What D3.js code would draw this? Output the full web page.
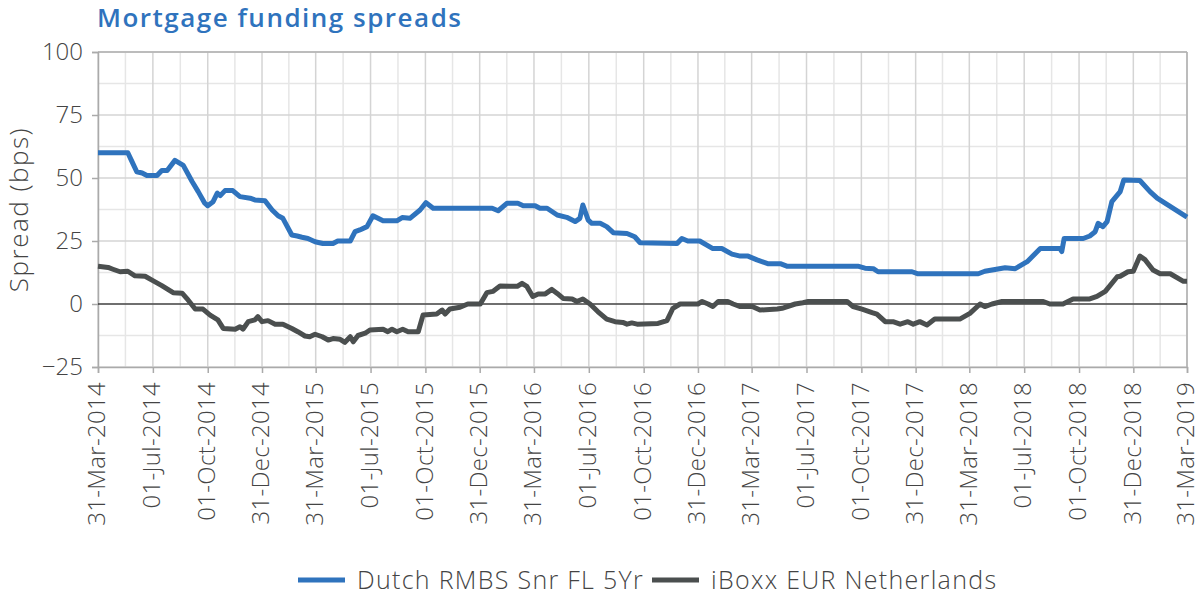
<!DOCTYPE html>
<html>
<head>
<meta charset="utf-8">
<script src="https://cdn.jsdelivr.net/npm/d3@7"></script>
<style>
  body { margin: 0; background: #fff; }
  text { font-family: "Open Sans", "Noto Sans", sans-serif; }
</style>
</head>
<body>
<div id="chart"></div>
<script>
// series 1: Dutch RMBS Snr FL 5Yr (bps)
const rmbsDates = ["2014-03-31","2014-05-20","2014-05-27","2014-06-04","2014-06-13","2014-06-21","2014-07-08","2014-07-16","2014-07-25","2014-08-07","2014-08-21","2014-09-05","2014-09-15","2014-09-26","2014-10-01","2014-10-10","2014-10-17","2014-10-22","2014-10-30","2014-11-12","2014-11-24","2014-12-11","2014-12-19","2015-01-05","2015-01-17","2015-01-27","2015-02-04","2015-02-19","2015-02-28","2015-03-08","2015-03-18","2015-03-30","2015-04-12","2015-04-29","2015-05-07","2015-05-28","2015-06-05","2015-06-13","2015-06-25","2015-07-05","2015-07-22","2015-08-14","2015-08-23","2015-09-05","2015-09-22","2015-10-02","2015-10-14","2016-01-21","2016-01-31","2016-02-15","2016-03-04","2016-03-13","2016-04-02","2016-04-10","2016-04-22","2016-05-09","2016-05-25","2016-06-08","2016-06-16","2016-06-21","2016-06-30","2016-07-06","2016-07-20","2016-07-31","2016-08-11","2016-09-03","2016-09-16","2016-09-25","2016-11-26","2016-12-04","2016-12-14","2017-01-03","2017-01-25","2017-02-09","2017-02-26","2017-03-12","2017-03-25","2017-04-09","2017-04-27","2017-05-18","2017-05-29","2017-09-25","2017-10-07","2017-10-21","2017-10-29","2017-12-25","2018-01-04","2018-04-15","2018-04-26","2018-05-30","2018-06-16","2018-07-06","2018-07-28","2018-08-30","2018-09-02","2018-09-06","2018-10-08","2018-10-19","2018-10-28","2018-11-02","2018-11-10","2018-11-17","2018-11-25","2018-12-09","2018-12-15","2019-01-11","2019-01-28","2019-02-09","2019-03-31"];
const rmbsValues = [60,60,56.5,52.5,52,51,51,53,53,57,55,48.5,44.6,40,39,40.6,44,43,45,45,42.6,42,41.3,41,37.3,35,34,27.4,27,26.5,26,24.7,24,24,25,25,28.7,29.4,30.7,35,33,33,34.3,34,37.3,40.2,38,38,37,40,40,39,39,38,38,35.3,34.4,32.7,34,39.3,33.3,32,32,30.7,28.3,28,26.7,24.3,24,26,25,25,22,22,19.8,19,19,17.5,16,16,15,15,14.2,14,12.8,12.8,12,12,13,14.4,14,16.8,22,22,20.8,26,26,27,28.7,32,30.7,32.7,40.6,44.6,49.2,49,44.6,42,34.5];

// series 2: iBoxx EUR Netherlands (bps)
const iboxxDates = ["2014-03-31","2014-04-17","2014-04-25","2014-05-07","2014-05-20","2014-06-01","2014-06-18","2014-07-01","2014-07-16","2014-08-04","2014-08-19","2014-08-29","2014-09-10","2014-09-23","2014-10-05","2014-10-18","2014-10-27","2014-11-16","2014-11-24","2014-11-29","2014-12-08","2014-12-19","2014-12-24","2014-12-31","2015-01-10","2015-01-22","2015-02-04","2015-02-19","2015-03-01","2015-03-13","2015-03-21","2015-03-30","2015-04-11","2015-04-21","2015-04-29","2015-05-11","2015-05-19","2015-05-28","2015-06-02","2015-06-10","2015-06-22","2015-06-30","2015-07-22","2015-07-30","2015-08-06","2015-08-14","2015-08-24","2015-09-02","2015-09-19","2015-09-27","2015-10-20","2015-10-29","2015-11-03","2015-11-11","2015-11-28","2015-12-11","2016-01-01","2016-01-12","2016-01-22","2016-02-03","2016-03-03","2016-03-11","2016-03-19","2016-03-29","2016-04-07","2016-04-19","2016-04-30","2016-05-09","2016-05-19","2016-06-03","2016-06-11","2016-06-21","2016-07-03","2016-07-16","2016-07-31","2016-08-14","2016-08-27","2016-09-03","2016-09-11","2016-09-20","2016-10-25","2016-11-09","2016-11-19","2016-12-01","2016-12-31","2017-01-07","2017-01-17","2017-01-25","2017-02-03","2017-02-19","2017-02-28","2017-03-12","2017-04-01","2017-04-14","2017-05-13","2017-05-21","2017-06-12","2017-06-25","2017-07-04","2017-09-07","2017-09-17","2017-10-02","2017-10-19","2017-10-27","2017-11-10","2017-11-23","2017-12-05","2017-12-18","2017-12-27","2018-01-07","2018-01-19","2018-02-01","2018-03-15","2018-04-01","2018-04-18","2018-04-26","2018-05-08","2018-05-25","2018-08-02","2018-08-13","2018-09-04","2018-09-21","2018-10-19","2018-10-31","2018-11-14","2018-12-04","2018-12-09","2018-12-22","2018-12-31","2019-01-11","2019-01-20","2019-02-02","2019-02-14","2019-03-03","2019-03-25","2019-03-31"];
const iboxxValues = [15,14.5,13.8,12.8,13,11.2,11,9.3,7.3,4.5,4.3,1.6,-2,-2,-4.4,-6.3,-9.7,-10,-9,-10,-7,-6.3,-5,-7,-6.6,-8,-8,-9.7,-11,-12.7,-13,-12,-13,-14.3,-13.7,-14,-15.2,-13,-15,-12.5,-11.6,-10.3,-10,-11,-10,-11,-10,-11,-11,-4.4,-4,-2.4,-4,-2,-1.3,0,0,4.5,5,7.1,7,8.2,7,3,4,4,5.8,4.2,2.2,2,1,2,0,-3,-6,-7,-7.3,-8,-7.5,-8,-7.7,-6.6,-1.7,0,0,1,0,-1,1,1,0,-1,-1,-2.4,-2,-1.7,0,0.5,1,1,-1,-2,-3.4,-4,-7,-7,-8,-7,-8,-7,-8.3,-6,-6,-3.7,0,-1,0,1,1,0,0,2,2,3,5,10.8,11,12.8,13,19,17.5,13.5,12,12,9,9];

// x-axis tick labels
const tickLabels = ["31-Mar-2014","01-Jul-2014","01-Oct-2014","31-Dec-2014","31-Mar-2015","01-Jul-2015","01-Oct-2015","31-Dec-2015","31-Mar-2016","01-Jul-2016","01-Oct-2016","31-Dec-2016","31-Mar-2017","01-Jul-2017","01-Oct-2017","31-Dec-2017","31-Mar-2018","01-Jul-2018","01-Oct-2018","31-Dec-2018","31-Mar-2019"];
const yTicks = [-25, 0, 25, 50, 75, 100];

const seriesNames = ["Dutch RMBS Snr FL 5Yr", "iBoxx EUR Netherlands"];
const seriesColors = ["#2f73bd", "#4b4f4f"];

const width = 1201, height = 596;
const margin = {top: 52, right: 14, bottom: 229, left: 98};

const parse = d3.timeParse("%Y-%m-%d");
const parseTick = d3.timeParse("%d-%b-%Y");

const series = [
  rmbsDates.map((d, i) => ({date: parse(d), value: rmbsValues[i]})),
  iboxxDates.map((d, i) => ({date: parse(d), value: iboxxValues[i]}))
];
const tickDates = tickLabels.map(parseTick);

const x = d3.scaleTime()
  .domain([tickDates[0], tickDates[tickDates.length - 1]])
  .range([margin.left, width - margin.right]);
const y = d3.scaleLinear()
  .domain([-25, 100])
  .range([height - margin.bottom, margin.top]);

const svg = d3.select("#chart").append("svg")
  .attr("width", width)
  .attr("height", height);

// minor gridlines (halfway between ticks)
const minorX = d3.pairs(tickDates).map(([a, b]) => new Date((+a + +b) / 2));
const minorY = d3.range(-12.5, 100, 25);

svg.append("g").selectAll("line")
  .data(minorX).join("line")
  .attr("x1", d => x(d)).attr("x2", d => x(d))
  .attr("y1", y(-25)).attr("y2", y(100))
  .attr("stroke", "#e6e6e6").attr("stroke-width", 1.5);
svg.append("g").selectAll("line")
  .data(minorY).join("line")
  .attr("x1", x.range()[0]).attr("x2", x.range()[1])
  .attr("y1", d => y(d)).attr("y2", d => y(d))
  .attr("stroke", "#e6e6e6").attr("stroke-width", 1.5);

// major gridlines
svg.append("g").selectAll("line")
  .data(tickDates).join("line")
  .attr("x1", d => x(d)).attr("x2", d => x(d))
  .attr("y1", y(-25)).attr("y2", y(100))
  .attr("stroke", "#d4d4d4").attr("stroke-width", 1.5);
svg.append("g").selectAll("line")
  .data(yTicks).join("line")
  .attr("x1", x.range()[0]).attr("x2", x.range()[1])
  .attr("y1", d => y(d)).attr("y2", d => y(d))
  .attr("stroke", "#d4d4d4").attr("stroke-width", 1.5);

// frame
svg.append("line")
  .attr("x1", x.range()[1]).attr("x2", x.range()[1])
  .attr("y1", y(-25)).attr("y2", y(100))
  .attr("stroke", "#b0b0b0").attr("stroke-width", 1.5);
svg.append("line")
  .attr("x1", x.range()[0]).attr("x2", x.range()[1])
  .attr("y1", y(100)).attr("y2", y(100))
  .attr("stroke", "#b0b0b0").attr("stroke-width", 1.5);

// axes
const yAxis = svg.append("g")
  .attr("transform", `translate(${margin.left},0)`)
  .call(d3.axisLeft(y).tickValues(yTicks).tickSize(6).tickPadding(9));
yAxis.selectAll("text").style("font-size", "24px").attr("fill", "#444").style("font-weight", 300);

const xAxis = svg.append("g")
  .attr("transform", `translate(0,${height - margin.bottom})`)
  .call(d3.axisBottom(x).tickValues(tickDates).tickSize(6).tickFormat((d, i) => tickLabels[i]));
xAxis.selectAll("text")
  .style("font-size", "24px").attr("fill", "#444").style("font-weight", 300)
  .style("letter-spacing", "0.3px")
  .attr("text-anchor", "end")
  .attr("transform", "rotate(-90)")
  .attr("x", -15).attr("y", 0).attr("dy", "0.28em");

svg.selectAll(".domain").attr("stroke", "#aaa").attr("stroke-width", 1.5);
svg.selectAll(".tick line").attr("stroke", "#aaa").attr("stroke-width", 1.5);

// zero line
svg.append("line")
  .attr("x1", x.range()[0]).attr("x2", x.range()[1])
  .attr("y1", y(0)).attr("y2", y(0))
  .attr("stroke", "#000").attr("stroke-width", 1.2);

// series lines
const line = d3.line().x(d => x(d.date)).y(d => y(d.value));
svg.append("g").selectAll("path")
  .data(series).join("path")
  .attr("d", line)
  .attr("fill", "none")
  .attr("stroke", (d, i) => seriesColors[i])
  .attr("stroke-width", 5)
  .attr("stroke-linejoin", "round");

// titles
svg.append("text")
  .attr("x", 97).attr("y", 27)
  .attr("fill", "#2f73bd")
  .style("font-size", "26px").style("font-weight", 600)
  .style("letter-spacing", "1.5px")
  .text("Mortgage funding spreads");

svg.append("text")
  .attr("transform", `translate(19,${y(37.5)}) rotate(-90)`)
  .attr("text-anchor", "middle")
  .attr("dy", "0.35em")
  .attr("fill", "#444")
  .style("font-size", "26px").style("font-weight", 300)
  .style("letter-spacing", "1.5px")
  .text("Spread (bps)");

// legend
const legend = svg.append("g").attr("transform", "translate(298,580)");
const items = legend.selectAll("g").data(seriesNames).join("g")
  .attr("transform", (d, i) => `translate(${i * 354},0)`);
items.append("line")
  .attr("x1", 0).attr("x2", 47)
  .attr("stroke", (d, i) => seriesColors[i]).attr("stroke-width", 5);
items.append("text")
  .attr("x", 59).attr("dy", "0.35em")
  .attr("fill", "#444")
  .style("font-size", "25px").style("font-weight", 300)
  .style("letter-spacing", "1.3px")
  .text(d => d);
</script>
</body>
</html>
